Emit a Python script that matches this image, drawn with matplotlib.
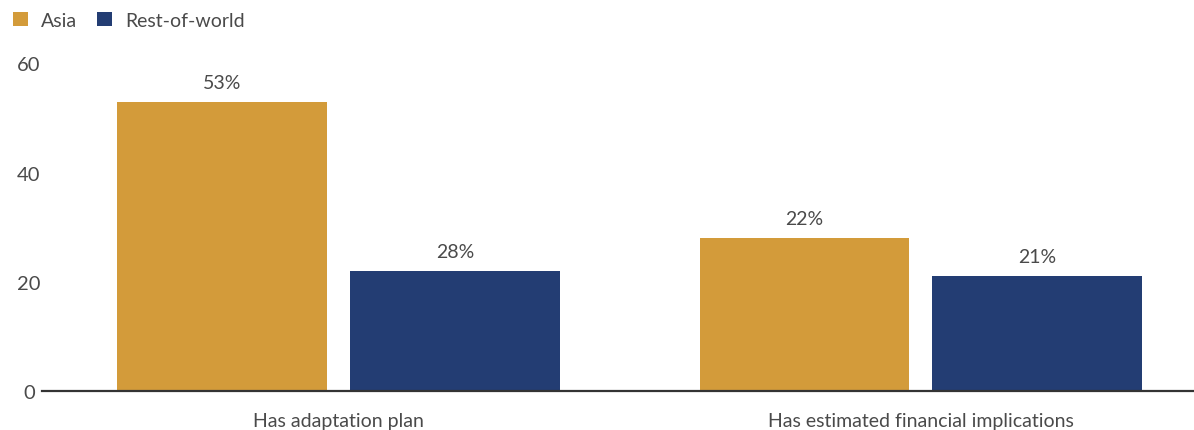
import matplotlib
matplotlib.use("Agg")
import matplotlib.pyplot as plt
from matplotlib.patches import Patch
import numpy as np

categories = ["Has adaptation plan", "Has estimated financial implications"]
series_names = ["Asia", "Rest-of-world"]
asia_values = [53, 28]
row_values = [22, 21]
asia_labels = ["53%", "22%"]
row_labels = ["28%", "21%"]
y_ticks = [0, 20, 40, 60]

ASIA = "#D39B3A"
ROW = "#233D73"
TXT = "#4a4a4a"

plt.rcParams['font.family'] = ['Lato', 'DejaVu Sans']

fig = plt.figure(figsize=(11.94, 4.31), dpi=100)
ax = fig.add_axes([42/1194, 39/431, 1152/1194, 63*5.46/431])

x = np.arange(len(categories))
w = 0.36
off = 0.2
b1 = ax.bar(x - off, asia_values, w, color=ASIA, zorder=2)
b2 = ax.bar(x + off, row_values, w, color=ROW, zorder=2)

for bars, labs in ((b1, asia_labels), (b2, row_labels)):
    for rect, lab in zip(bars, labs):
        ax.annotate(lab, (rect.get_x() + rect.get_width()/2, rect.get_height()),
                    xytext=(0, 8), textcoords="offset points",
                    ha="center", va="bottom", fontsize=14, color=TXT)

ax.set_xlim(-0.509, 1.469)
ax.set_ylim(0, 63)
ax.set_xticks(x)
ax.set_xticklabels(categories, fontsize=14, color=TXT)
ax.set_yticks(y_ticks)
ax.set_yticklabels([str(v) for v in y_ticks], fontsize=14.5, color=TXT)
for t in ax.get_yticklabels():
    t.set_horizontalalignment("center")
    t.set_verticalalignment("center_baseline")
ax.tick_params(axis="y", length=0, pad=9.4)
ax.tick_params(axis="x", length=0, pad=15)

for s in ("top", "right", "left"):
    ax.spines[s].set_visible(False)
ax.spines["bottom"].set_linewidth(1.6)
ax.spines["bottom"].set_color("#333333")
ax.spines["bottom"].set_zorder(3)

handles = [Patch(facecolor=ASIA), Patch(facecolor=ROW)]
fig.legend(handles, series_names, loc="upper left", bbox_to_anchor=(0.0, 1.0),
           ncol=2, frameon=False, fontsize=14, labelcolor=TXT,
           handlelength=0.78, handleheight=0.78, handletextpad=0.65,
           columnspacing=1.05, borderaxespad=0.25)

fig.savefig("out.png", dpi=100)
